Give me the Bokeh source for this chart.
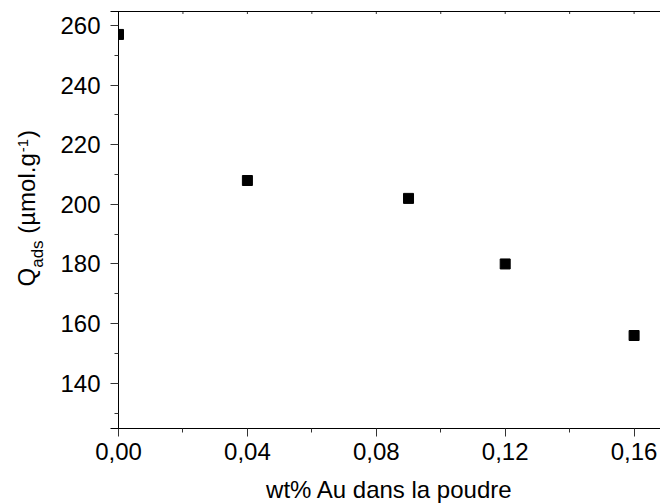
import math
from bokeh.plotting import figure
from bokeh.models import (Range1d, Label, CustomJSTickFormatter, FixedTicker, Arrow,
                          BoxAnnotation)
from bokeh.embed import file_html
from bokeh.resources import INLINE

# ---- data ----
wt_au = [0.00, 0.04, 0.09, 0.12, 0.16]
q_ads = [257, 208, 202, 180, 156]

x_ticks = [0.00, 0.04, 0.08, 0.12, 0.16]
x_tick_labels = ["0,00", "0,04", "0,08", "0,12", "0,16"]
x_minor = [0.02, 0.06, 0.10, 0.14]
y_ticks = [140, 160, 180, 200, 220, 240, 260]
y_tick_labels = ["140", "160", "180", "200", "220", "240", "260"]
y_minor = [130, 150, 170, 190, 210, 230, 250]

x_title = "wt% Au dans la poudre"
# (text, kind, leading gap in em of the main font)
y_title_parts = [("Q", "main", 0.0), ("ads", "sub", 0.0), ("(µmol.g", "main", 0.278),
                 ("-1", "sup", 0.04), (")", "main", 0.04)]

# axis frame (data units)
AX_X0 = 0.0
AX_Y0, AX_Y1 = 124.8, 264.7

# ---- layout (pixels) ----
W, H = 660, 504
FX0, FY0, FY1 = 118, 428, 11       # page px of x=AX_X0, y=AX_Y0, y=AX_Y1
PXX = 3222.5                        # px per x unit
PXY = (FY0 - FY1) / (AX_Y1 - AX_Y0)

def px2x(px):
    return AX_X0 + (px - FX0) / PXX

def py2y(py):
    return AX_Y0 + (FY0 - py) / PXY

X_START, X_END = px2x(0), px2x(W)
Y_START, Y_END = py2y(H), py2y(0)

FONT = "Liberation Sans"
TICK_SIZE = 24
TITLE_SIZE = 24
SUB_SIZE = 17
SUP_SIZE = 15
BASE_FIX = 0.3      # em shift of the rendered baseline

p = figure(width=W, height=H, output_backend="svg", toolbar_location=None,
           x_range=Range1d(X_START, X_END), y_range=Range1d(Y_START, Y_END),
           min_border=0)
p.outline_line_color = None
p.xgrid.visible = False
p.ygrid.visible = False
p.background_fill_color = "white"
p.border_fill_color = "white"

def fmt(tvals, tlabels):
    return CustomJSTickFormatter(args=dict(tvals=tvals, tlabels=tlabels), code="""
        const i = tvals.findIndex(t => Math.abs(t - tick) < 1e-9);
        return i >= 0 ? tlabels[i] : '';
    """)

ext = 8 / PXX
xa = p.xaxis[0]
xa.ticker = FixedTicker(ticks=x_ticks, minor_ticks=x_minor)
xa.formatter = fmt(x_ticks, x_tick_labels)
xa.fixed_location = AX_Y0
xa.bounds = (AX_X0 - ext, X_END)
ya = p.yaxis[0]
ya.ticker = FixedTicker(ticks=y_ticks, minor_ticks=y_minor)
ya.formatter = fmt(y_ticks, y_tick_labels)
ya.fixed_location = AX_X0
ya.bounds = (AX_Y0, AX_Y1)

for ax in (xa, ya):
    ax.axis_line_color = "black"
    ax.axis_line_width = 1
    ax.major_tick_line_color = "#333333"
    ax.minor_tick_line_color = "#333333"
    ax.major_tick_in = 0
    ax.major_tick_out = 8
    ax.minor_tick_in = 0
    ax.minor_tick_out = 4
    ax.major_label_text_font = FONT
    ax.major_label_text_font_size = f"{TICK_SIZE}px"
    ax.major_label_text_color = "black"

xa.major_label_standoff = 6
ya.major_label_standoff = 10

# data points (left half at x=0 hidden behind the axis, as in the original clip)
p.scatter(wt_au, q_ads, marker="square", size=10, color="black", level="underlay")
p.add_layout(BoxAnnotation(left=AX_X0 - 7 / PXX, right=AX_X0, bottom=AX_Y0, top=AX_Y1,
                           fill_color="white", fill_alpha=1.0, line_color=None,
                           level="glyph"))

# top frame line with small inward ticks
p.add_layout(Arrow(end=None, x_start=AX_X0 - ext, y_start=AX_Y1, x_end=X_END,
                   y_end=AX_Y1, line_color="black", line_width=1))
top_ticks = sorted(x_ticks + x_minor)
p.segment(x0=top_ticks, y0=[AX_Y1] * len(top_ticks), x1=top_ticks,
          y1=[AX_Y1 - 2.5 / PXY] * len(top_ticks), line_color="#333333", line_width=1)

# x title (baseline near the bottom edge)
p.add_layout(Label(x=px2x(389), y=py2y(496 - BASE_FIX * TITLE_SIZE), text=x_title,
                   text_align="center", text_baseline="alphabetic", text_font=FONT,
                   text_font_size=f"{TITLE_SIZE}px", text_color="black"))

# rotated y title built from pieces (sub/superscripts)
widths = {"Q": 778, "a": 556, "d": 556, "s": 500, " ": 278, "(": 333, "µ": 576,
          "m": 833, "o": 556, "l": 222, ".": 278, "g": 556, "-": 333, "1": 556, ")": 333}
def tw(s, size):
    return sum(widths.get(c, 556) for c in s) * size / 1000.0

base_px = {"main": 33, "sub": 42.5, "sup": 26.5}    # page x of each baseline
pos_py = 286        # page y where the title starts (reads upward)
for txt, kind, gap in y_title_parts:
    size = {"main": TITLE_SIZE, "sub": SUB_SIZE, "sup": SUP_SIZE}[kind]
    pos_py -= gap * TITLE_SIZE
    p.add_layout(Label(x=px2x(base_px[kind] - BASE_FIX * size), y=py2y(pos_py),
                       text=txt, angle=math.pi / 2, text_align="left",
                       text_baseline="alphabetic", text_font=FONT,
                       text_font_size=f"{size}px", text_color="black"))
    pos_py -= tw(txt, size)

open("out.html", "w").write(file_html(p, INLINE))
